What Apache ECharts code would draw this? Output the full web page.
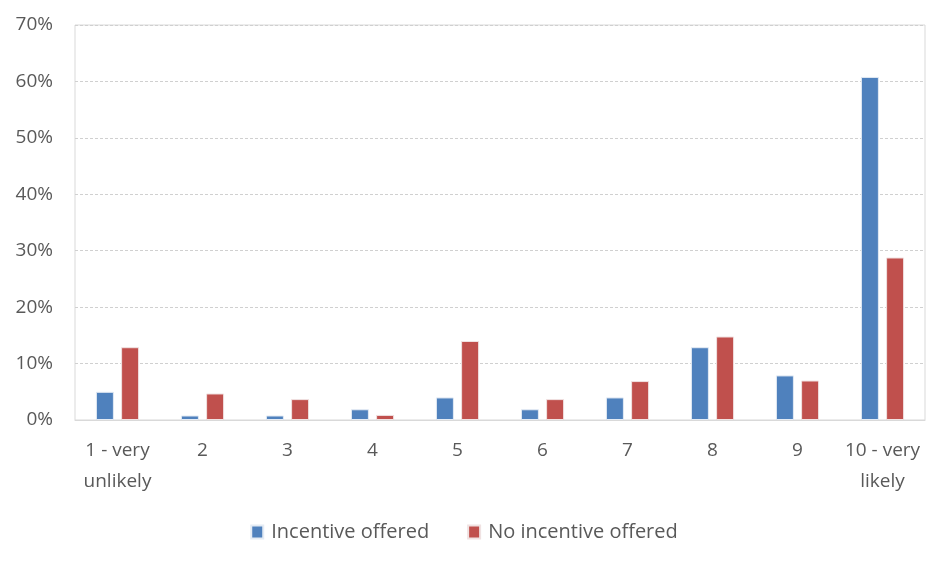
<!DOCTYPE html>
<html>
<head>
<meta charset="utf-8">
<script src="https://cdn.jsdelivr.net/npm/echarts@6/dist/echarts.min.js"></script>
<style>
  html, body { margin: 0; padding: 0; background: #fff; }
  #app { width: 928px; height: 565px; }
</style>
</head>
<body>
<div id="app"></div>
<script>
// likelihood scale, 1..10
var categories = ['1 - very\nunlikely', '2', '3', '4', '5', '6', '7', '8', '9', '10 - very\nlikely'];
var incentiveOffered = [5, 0.8, 0.8, 1.9, 4, 1.9, 4, 12.9, 7.9, 60.8];
var noIncentiveOffered = [12.9, 4.7, 3.7, 0.9, 14, 3.7, 6.9, 14.8, 7, 28.8];
var seriesNames = ['Incentive offered', 'No incentive offered'];

var font = '"Open Sans", "DejaVu Sans", sans-serif';
var textColor = '#595959';

var chart = echarts.init(document.getElementById('app'), null, { renderer: 'canvas' });
var option = {
    animation: false,
    textStyle: { fontFamily: font },
    grid: {
        left: 75, right: 3, top: 25, bottom: 145,
        show: true, borderColor: '#d9d9d9', borderWidth: 1
    },
    legend: {
        bottom: 18,
        left: 'center',
        itemWidth: 12, itemHeight: 13, itemGap: 38,
        icon: 'rect',
        textStyle: { color: textColor, fontSize: 20, fontFamily: font, padding: [0, 0, 0, 3] },
        data: seriesNames
    },
    xAxis: {
        type: 'category',
        data: categories,
        axisLine: { lineStyle: { color: '#d9d9d9' } },
        axisTick: { show: false },
        axisLabel: { color: textColor, fontSize: 19, margin: 15, lineHeight: 31, interval: 0 }
    },
    yAxis: {
        type: 'value',
        min: 0, max: 70, interval: 10,
        axisLine: { show: false },
        axisTick: { show: false },
        axisLabel: { color: textColor, fontSize: 19, margin: 22, formatter: '{value}%' },
        splitLine: { lineStyle: { color: '#d0d0d0', type: [3, 2] } }
    },
    series: [
        {
            name: seriesNames[0],
            type: 'bar',
            data: incentiveOffered,
            barWidth: 18,
            barGap: '40%',
            itemStyle: { color: '#4f81bd', borderColor: '#e4ebf4', borderWidth: 1 }
        },
        {
            name: seriesNames[1],
            type: 'bar',
            data: noIncentiveOffered,
            barWidth: 18,
            itemStyle: { color: '#c0504d', borderColor: '#f0e2e2', borderWidth: 1 }
        }
    ]
};
chart.setOption(option);
addEventListener('resize', function () { chart.resize(); });
</script>
</body>
</html>
